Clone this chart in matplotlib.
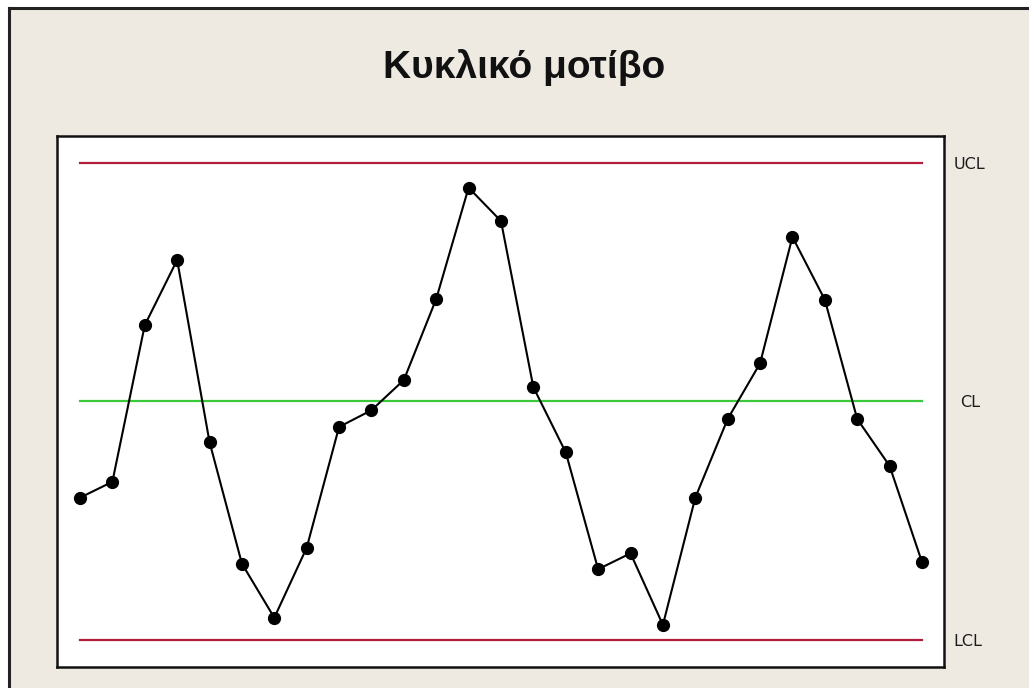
import numpy as np
import matplotlib.pyplot as plt
from matplotlib.lines import Line2D
from matplotlib.transforms import blended_transform_factory

# μετρήσεις ανά δείγμα (κυκλική συμπεριφορά)
samples = np.arange(1, 28)
values = [-1.21, -1.01, 0.96, 1.78, -0.51, -2.04, -2.72, -1.84, -0.32, -0.11,
          0.27, 1.29, 2.69, 2.27, 0.18, -0.64, -2.11, -1.91, -2.81, -1.21,
          -0.22, 0.48, 2.07, 1.28, -0.22, -0.81, -2.02]
ucl, cl, lcl = 3.0, 0.0, -3.0
limit_names = ['UCL', 'CL', 'LCL']
limit_values = [ucl, cl, lcl]
limit_colors = ['#B01E3C', '#3CC83C', '#B01E3C']

W, H = 1029, 688
fig = plt.figure(figsize=(W / 100, H / 100), dpi=100, facecolor='white')

# μπεζ πλαίσιο γύρω από το διάγραμμα
bg = plt.Rectangle((9 / W, -0.1), 1.2, 1.1 - 8 / H, transform=fig.transFigure,
                   facecolor='#EEEAE2', edgecolor='none', zorder=-5)
fig.patches.append(bg)
fig.add_artist(Line2D([9 / W, 9 / W], [0, 1 - 8 / H], transform=fig.transFigure,
                      color='#222222', lw=2.2, zorder=-4))
fig.add_artist(Line2D([9 / W, 1], [1 - 8 / H, 1 - 8 / H], transform=fig.transFigure,
                      color='#222222', lw=2.2, zorder=-4))

ax = fig.add_axes([57 / W, 21 / H, 887 / W, 531 / H])
ax.set_zorder(2)
ax.set_facecolor('white')

for v, c in zip(limit_values, limit_colors):
    ax.plot([samples[0], samples[-1]], [v, v], color=c, lw=1.6, zorder=2)

ax.plot(samples, values, color='black', lw=1.5, marker='o', markersize=8.5,
        markerfacecolor='black', markeredgecolor='black', zorder=3)

ax.set_xlim(samples[0] - 0.71, samples[-1] + 0.68)
ax.set_ylim(-3.34, 3.34)
ax.set_xticks([])
ax.set_yticks([])
for s in ax.spines.values():
    s.set_linewidth(1.8)
    s.set_color('#111111')

trans = blended_transform_factory(fig.transFigure, ax.transData)
label_x = {'UCL': 954, 'CL': 960, 'LCL': 953}
for name, v in zip(limit_names, limit_values):
    ax.text(label_x[name] / W, v, name, transform=trans, clip_on=False,
            ha='left', va='center_baseline', fontsize=11.5, family='DejaVu Sans',
            color='#1a1a1a')

fig.text(524 / W, 1 - 78 / H, 'Κυκλικό μοτίβο', ha='center', va='baseline',
         fontsize=28, fontweight='bold', family='Liberation Sans', color='#111111')

fig.savefig('out.png', dpi=100, facecolor=fig.get_facecolor())
